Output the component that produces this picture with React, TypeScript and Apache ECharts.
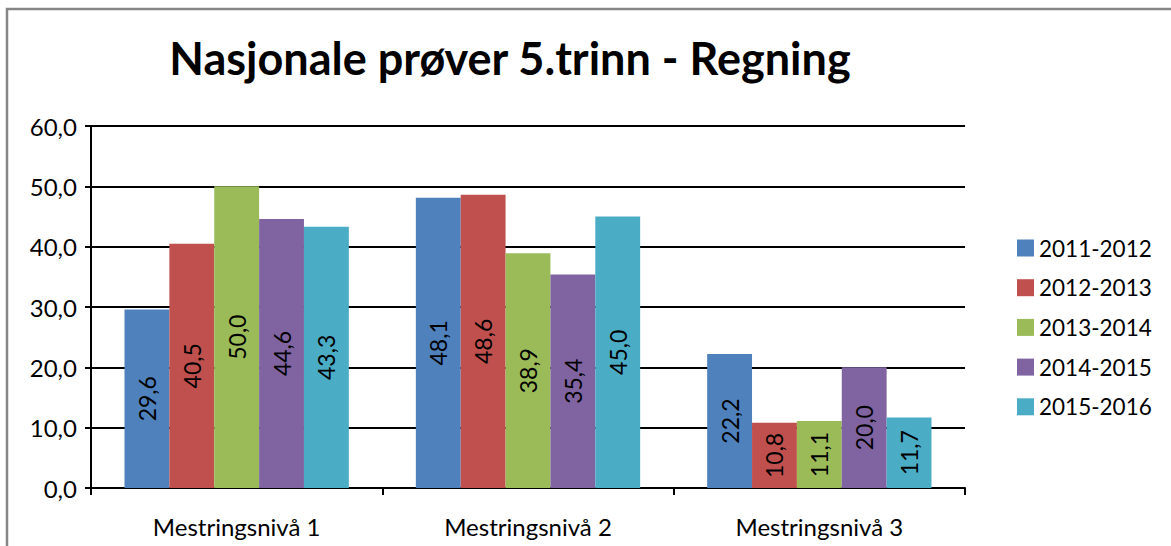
import React, { useEffect, useRef } from "react";
import * as echarts from "echarts";

const title = "Nasjonale prøver 5.trinn - Regning";
const categories = ["Mestringsnivå 1", "Mestringsnivå 2", "Mestringsnivå 3"];
const seriesNames = ["2011-2012", "2012-2013", "2013-2014", "2014-2015", "2015-2016"];
const s2011 = [29.6, 48.1, 22.2];
const s2012 = [40.5, 48.6, 10.8];
const s2013 = [50.0, 38.9, 11.1];
const s2014 = [44.6, 35.4, 20.0];
const s2015 = [43.3, 45.0, 11.7];
const seriesValues = [s2011, s2012, s2013, s2014, s2015];
const colors = ["#4F81BD", "#C0504D", "#9BBB59", "#8064A2", "#4BACC6"];

const FONT = "Lato";
const fmt = (v: number) => v.toFixed(1).replace(".", ",");

export default function App() {
  const ref = useRef<HTMLDivElement>(null);
  useEffect(() => {
    if (!ref.current) return;
    const chart = echarts.init(ref.current, null, { renderer: "svg" });
    chart.setOption({
      animation: false,
      color: colors,
      textStyle: { fontFamily: FONT },
      graphic: [
        {
          type: "rect",
          shape: { x: 7, y: 9, width: 1200, height: 600 },
          style: { fill: "none", stroke: "#868686", lineWidth: 2.5 },
          silent: true,
        },
        {
          type: "text",
          x: 510,
          y: 58,
          style: {
            text: title,
            fontFamily: FONT,
            fontWeight: "bold",
            fontSize: 45,
            fill: "#000",
            textAlign: "center",
            textVerticalAlign: "middle",
          },
        },
      ],
      legend: {
        orient: "vertical",
        left: 1012,
        top: 231,
        itemWidth: 17,
        itemHeight: 17,
        itemGap: 15.7,
        icon: "rect",
        textStyle: { fontFamily: FONT, fontSize: 22.5, color: "#000", lineHeight: 24 },
        data: seriesNames,
      },
      grid: { left: 91, right: 206, top: 126, bottom: 58, containLabel: false },
      xAxis: {
        type: "category",
        data: categories,
        axisLine: { lineStyle: { color: "#000", width: 2 } },
        axisTick: { show: true, alignWithLabel: false, length: 7, lineStyle: { color: "#000", width: 2 } },
        axisLabel: { color: "#000", fontSize: 24, fontFamily: FONT, margin: 26 },
      },
      yAxis: {
        type: "value",
        min: 0,
        max: 60,
        interval: 10,
        axisLine: { show: true, lineStyle: { color: "#000", width: 2 } },
        axisTick: { show: true, length: 6, lineStyle: { color: "#000", width: 2 } },
        axisLabel: { color: "#000", fontSize: 24, fontFamily: FONT, margin: 14, formatter: (v: number) => fmt(v) },
        splitLine: { show: true, lineStyle: { color: "#000", width: 2 } },
      },
      series: seriesNames.map((name, i) => ({
        name,
        type: "bar",
        data: seriesValues[i],
        barGap: "0%",
        barCategoryGap: "23%",
        itemStyle: { color: colors[i] },
        label: {
          show: true,
          position: "inside",
          rotate: 90,
          color: "#000",
          fontSize: 23,
          fontFamily: FONT,
          formatter: (p: any) => fmt(p.value),
        },
      })),
    });
    return () => chart.dispose();
  }, []);
  return (
    <div
      ref={ref}
      style={{ position: "fixed", left: 0, top: 0, width: 1171, height: 546, background: "#fff" }}
    />
  );
}
